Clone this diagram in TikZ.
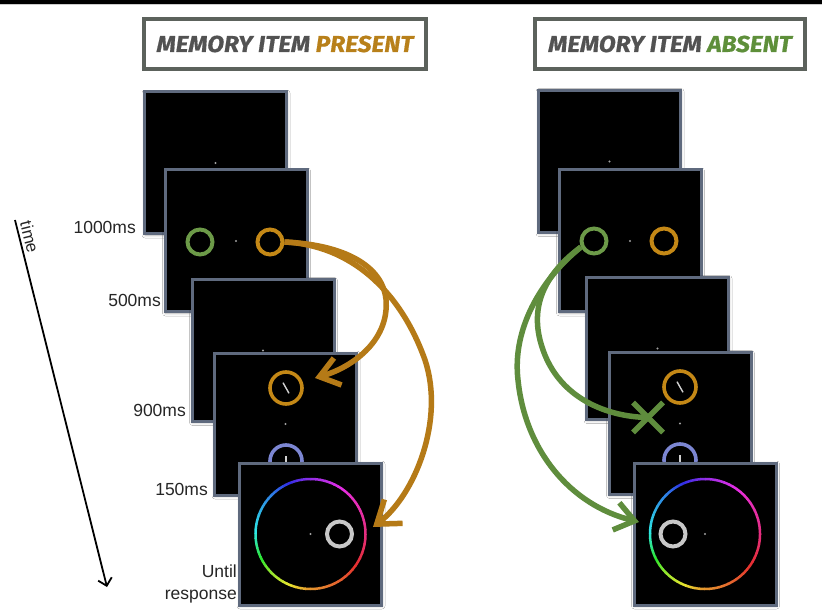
\documentclass[tikz,border=0pt]{standalone}
\usepackage{fontspec}
\setmainfont{Liberation Sans}
\newfontfamily\titlefont{Fira Sans}[FakeStretch=1.07,FakeBold=0.6]
\usetikzlibrary{arrows.meta,shadows.blur}
\definecolor{framec}{HTML}{5F6A7E}
\definecolor{orng}{HTML}{B57A17}
\definecolor{orngring}{HTML}{C48816}
\definecolor{grn}{HTML}{5F8D3D}
\definecolor{grnring}{HTML}{6C9A48}
\definecolor{bluering}{HTML}{7C86D2}
\definecolor{titlegray}{HTML}{525252}
\definecolor{titleorng}{HTML}{B8801A}
\definecolor{titlegrn}{HTML}{5E8F3A}
\definecolor{boxgray}{HTML}{5C625C}
\definecolor{dotc}{HTML}{A0A0A0}
\definecolor{needlec}{HTML}{D0D0D0}
\definecolor{greyring}{HTML}{C8C8C8}
\newcommand\cwheel{%
  \foreach \i in {0,...,71}{%
    \pgfmathsetmacro\a{\i*5}%
    \pgfmathtruncatemacro\k{\i/9}%
    \pgfmathsetmacro\hA{{335,370,395,450,540,575,635,670,695}[\k]}%
    \pgfmathsetmacro\hB{{335,370,395,450,540,575,635,670,695}[\k+1]}%
    \pgfmathsetmacro\hh{mod(\hA+(\hB-\hA)*(\i-9*\k)/9,360)}%
    \definecolor{wc}{Hsb}{\hh,0.8,0.9}%
    \draw[wc,line width=2.5pt] plot[domain=\a:\a+5.6,samples=5] ({55*cos(\x)},{55*sin(\x)});
  }}
\begin{document}
\begin{tikzpicture}[x=1pt,y=-1pt,
  frame/.style={draw=framec, fill=black, line width=3pt, minimum size=142pt, inner sep=0pt,
    blur shadow={shadow xshift=0.5pt, shadow yshift=-1pt, shadow blur radius=3pt, shadow opacity=30}},
  ring/.style={draw=#1, circle, line width=4pt, minimum size=25pt, inner sep=0pt},
  bigring/.style={draw=#1, circle, line width=3.6pt, minimum size=32pt, inner sep=0pt},
  fix/.style={fill=dotc, circle, minimum size=2.4pt, inner sep=0pt},
  needle/.style={draw=needlec, line width=1.4pt},
  lab/.style={font=\fontsize{17.5}{22}\selectfont, text=black!85, inner sep=0pt, anchor=east},
  titlebox/.style={draw=boxgray, line width=4pt, fill=white, minimum height=50pt, inner sep=0pt,
    font=\titlefont\bfseries\itshape\fontsize{23}{26}\selectfont, text=titlegray},
  oarrowa/.style={orng, line width=5.5pt, -{Straight Barb[length=19pt,width=28pt]}},
  oarrowb/.style={orng, line width=5.5pt, -{Straight Barb[length=21pt,width=30pt]}},
  garrow/.style={grn, line width=5.5pt, -{Straight Barb[length=19pt,width=28pt]}},
  gline/.style={grn, line width=5.5pt},
]
\useasboundingbox (0,0) rectangle (822,612);
\fill[white] (0,0) rectangle (822,612);
\fill[black] (0,0) rectangle (822,4.5);
\draw[black!20, line width=1pt] (0,5) -- (822,5);

% titles
\node[titlebox, minimum width=282pt] (tleft) at (285,44) {MEMORY ITEM \textcolor{titleorng}{PRESENT}};
\node[titlebox, minimum width=270pt] (tright) at (670,44) {MEMORY ITEM \textcolor{titlegrn}{ABSENT}};

% ---------- left column ----------
\node[frame] (L1) at (215.5,163) {};
\node[fix] (L1d) at (L1.center) {};
\node[frame] (L2) at (236,241) {};
\node[fix] (L2d) at (L2.center) {};
\node[ring=grnring] (LG) at (200,242) {};
\node[ring=orngring] (LO) at (270,242) {};
\node[frame] (L3) at (263,350.5) {};
\node[fix] (L3d) at (L3.center) {};
\node[frame] (L4) at (285.5,424) {};
\node[fix] (L4d) at (L4.center) {};
\node[bigring=orngring] (L4o) at (286,388) {};
\draw[needle] ([shift={(-3,-5.3)}]L4o.center) -- ([shift={(3,5.3)}]L4o.center);
\node[bigring=bluering] (L4b) at (286,461) {};
\draw[needle] ([shift={(0,-5)}]L4b.center) -- ([shift={(0,5)}]L4b.center);
\node[frame] (L5) at (310.5,534) {};
\begin{scope}[shift={(L5.center)}]\cwheel\end{scope}
\node[fix] (L5d) at (L5.center) {};
\node[ring=greyring] (L5g) at (339.5,534) {};

% ---------- right column ----------
\node[frame] (R1) at (609.5,161.5) {};
\node[fix] (R1d) at (R1.center) {};
\node[frame] (R2) at (630,241) {};
\node[fix] (R2d) at (R2.center) {};
\node[ring=grnring] (RG) at (594,241) {};
\node[ring=orngring] (RO) at (664,241) {};
\node[frame] (R3) at (657.5,348.5) {};
\node[fix] (R3d) at (R3.center) {};
\node[frame] (R4) at (680,423.5) {};
\node[fix] (R4d) at (R4.center) {};
\node[bigring=orngring] (R4o) at (680,387) {};
\draw[needle] ([shift={(-3,-5.3)}]R4o.center) -- ([shift={(3,5.3)}]R4o.center);
\node[bigring=bluering] (R4b) at (680,460) {};
\draw[needle] ([shift={(0,-5)}]R4b.center) -- ([shift={(0,5)}]R4b.center);
\node[frame] (R5) at (705,534) {};
\begin{scope}[shift={(R5.center)}]\cwheel\end{scope}
\node[fix] (R5d) at (R5.center) {};
\node[ring=greyring] (R5g) at (673,534) {};

% ---------- arrows ----------
\coordinate (LA1) at (315,378);
\coordinate (LA2) at (373,527);
\draw[oarrowa] (LO.east) .. controls (350,245) and (390,270) .. (386,310)
  .. controls (383,345) and (350,368) .. (LA1);
\draw[oarrowb] (LO.east) .. controls (350,245) and (400,290) .. (425,360)
  .. controls (445,420) and (415,495) .. (LA2);

\coordinate (RX) at (648,417.5);
\coordinate (RA2) at (639,522);
\draw[garrow] (RG.205) .. controls (540,280) and (512,330) .. (518,380)
  .. controls (525,450) and (570,505) .. (RA2);
\draw[gline] (RG.205) .. controls (550,270) and (530,300) .. (540,340)
  .. controls (555,400) and (610,417) .. (RX);
\draw[grn, line width=5.5pt] ([shift={(-15,-15)}]RX) -- ([shift={(15,15)}]RX);
\draw[grn, line width=5.5pt] ([shift={(15,-15)}]RX) -- ([shift={(-15,15)}]RX);

% ---------- time axis and labels ----------
\coordinate (T0) at (15,220);
\coordinate (T1) at (107,587);
\draw[line width=1.8pt, -{Straight Barb[length=7pt,width=14pt]}] (T0) -- (T1)
  node[pos=0, sloped, anchor=south west, inner sep=3pt, font=\fontsize{17}{20}\selectfont, text=black!85] (tlab) {time};

\node[lab] (t1000) at (136,227) {1000ms};
\node[lab] (t500) at (161,300) {500ms};
\node[lab] (t900) at (186,410) {900ms};
\node[lab] (t150) at (208,489) {150ms};
\node[lab, align=right] (tuntil) at (237,584) {Until\\response};
\end{tikzpicture}
\end{document}
